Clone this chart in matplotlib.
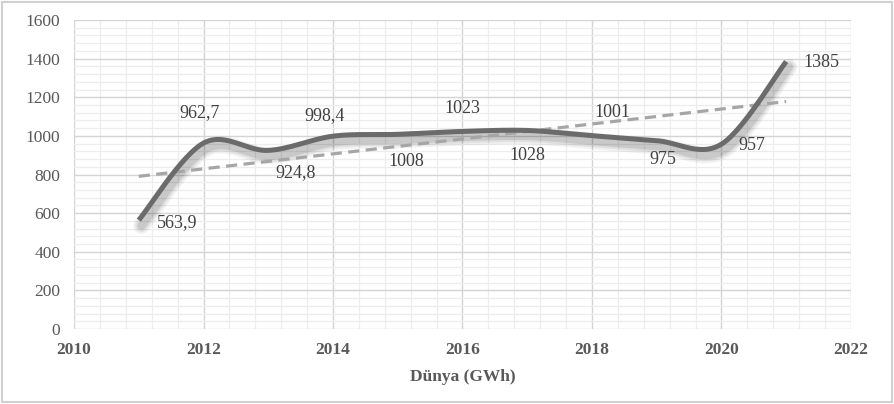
import numpy as np
import matplotlib
matplotlib.use("Agg")
import matplotlib.pyplot as plt
import matplotlib.transforms as mtransforms
from matplotlib.patches import Rectangle

years = [2011, 2012, 2013, 2014, 2015, 2016, 2017, 2018, 2019, 2020, 2021]
values = [563.9, 962.7, 924.8, 998.4, 1008, 1023, 1028, 1001, 975, 957, 1385]
labels = ["563,9", "962,7", "924,8", "998,4", "1008", "1023", "1028", "1001", "975", "957", "1385"]
x_label = "Dünya (GWh)"

# label offsets in pixels (dx, dy) relative to each point
label_offsets = [(38, -2), (-4, 30), (27, -22), (-8, 21), (9, -27), (0, 23),
                 (0, -25), (20, 23), (6, -19), (30, -1), (35, -1)]


def smooth(xs, ys, n=30):
    # Catmull-Rom style bezier, like Excel's smoothed line
    xs = np.asarray(xs, float)
    ys = np.asarray(ys, float)
    px = np.concatenate([[xs[0]], xs, [xs[-1]]])
    py = np.concatenate([[ys[0]], ys, [ys[-1]]])
    outx, outy = [], []
    for i in range(1, len(px) - 2):
        p0 = np.array([px[i], py[i]])
        p3 = np.array([px[i + 1], py[i + 1]])
        p1 = p0 + (p3 - np.array([px[i - 1], py[i - 1]])) / 6
        p2 = p3 - (np.array([px[i + 2], py[i + 2]]) - p0) / 6
        t = np.linspace(0, 1, n)[:, None]
        pts = ((1 - t) ** 3) * p0 + 3 * ((1 - t) ** 2) * t * p1 + 3 * (1 - t) * t ** 2 * p2 + t ** 3 * p3
        outx.extend(pts[:, 0])
        outy.extend(pts[:, 1])
    return np.array(outx), np.array(outy)


plt.rcParams['font.family'] = ['Liberation Serif', 'DejaVu Serif']

fig = plt.figure(figsize=(8.94, 4.04), dpi=100)
ax = fig.add_axes([0.0828, 0.1856, 0.869, 0.7649])

ax.set_xlim(2010, 2022)
ax.set_ylim(0, 1600)
ax.set_xticks(np.arange(2010, 2023, 2))
ax.set_yticks(np.arange(0, 1601, 200))
ax.set_xticks(np.arange(2010, 2022.01, 0.4), minor=True)
ax.set_yticks(np.arange(0, 1601, 40), minor=True)
ax.grid(which="minor", color="#ededed", linewidth=0.9, zorder=0)
ax.grid(which="major", color="#d4d4d4", linewidth=1.0, zorder=0)
ax.tick_params(which="both", length=0)
ax.tick_params(axis="y", labelsize=12.5, labelcolor="#595959", pad=10)
ax.tick_params(axis="x", labelsize=12.5, labelcolor="#595959", pad=9)
for lab in ax.get_xticklabels():
    lab.set_fontweight("bold")
for s in ax.spines.values():
    s.set_visible(False)
ax.set_axisbelow(True)

sx, sy = smooth(years, values)

# soft shadow under the line
for w, a in [(12, 0.05), (9, 0.07), (6, 0.10)]:
    tr = mtransforms.offset_copy(ax.transData, fig=fig, x=2, y=-4, units="points")
    ax.plot(sx, sy, color="#000000", linewidth=w, alpha=a, transform=tr,
            solid_capstyle="round", zorder=2)

# linear trend
coef = np.polyfit(years, values, 1)
tx = np.array([years[0], years[-1]])
ax.plot(tx, np.polyval(coef, tx), color="#a6a6a6", linewidth=2.3,
        dashes=(3.5, 2), zorder=3)

ax.plot(sx, sy, color="#6b6b6b", linewidth=3.6, solid_capstyle="butt", zorder=4)

for xv, yv, txt, (dx, dy) in zip(years, values, labels, label_offsets):
    ax.annotate(txt, (xv, yv), xytext=(dx * 0.72, dy * 0.72), textcoords="offset points",
                ha="center", va="center", fontsize=13, color="#404040", zorder=5)

ax.set_xlabel(x_label, fontsize=12.5, fontweight="bold", color="#595959", labelpad=8)

fig.patches.append(Rectangle((0.002, 0.004), 0.996, 0.992, transform=fig.transFigure,
                             fill=False, edgecolor="#d0d0d0", linewidth=1.5))

fig.savefig("out.png", dpi=100)
